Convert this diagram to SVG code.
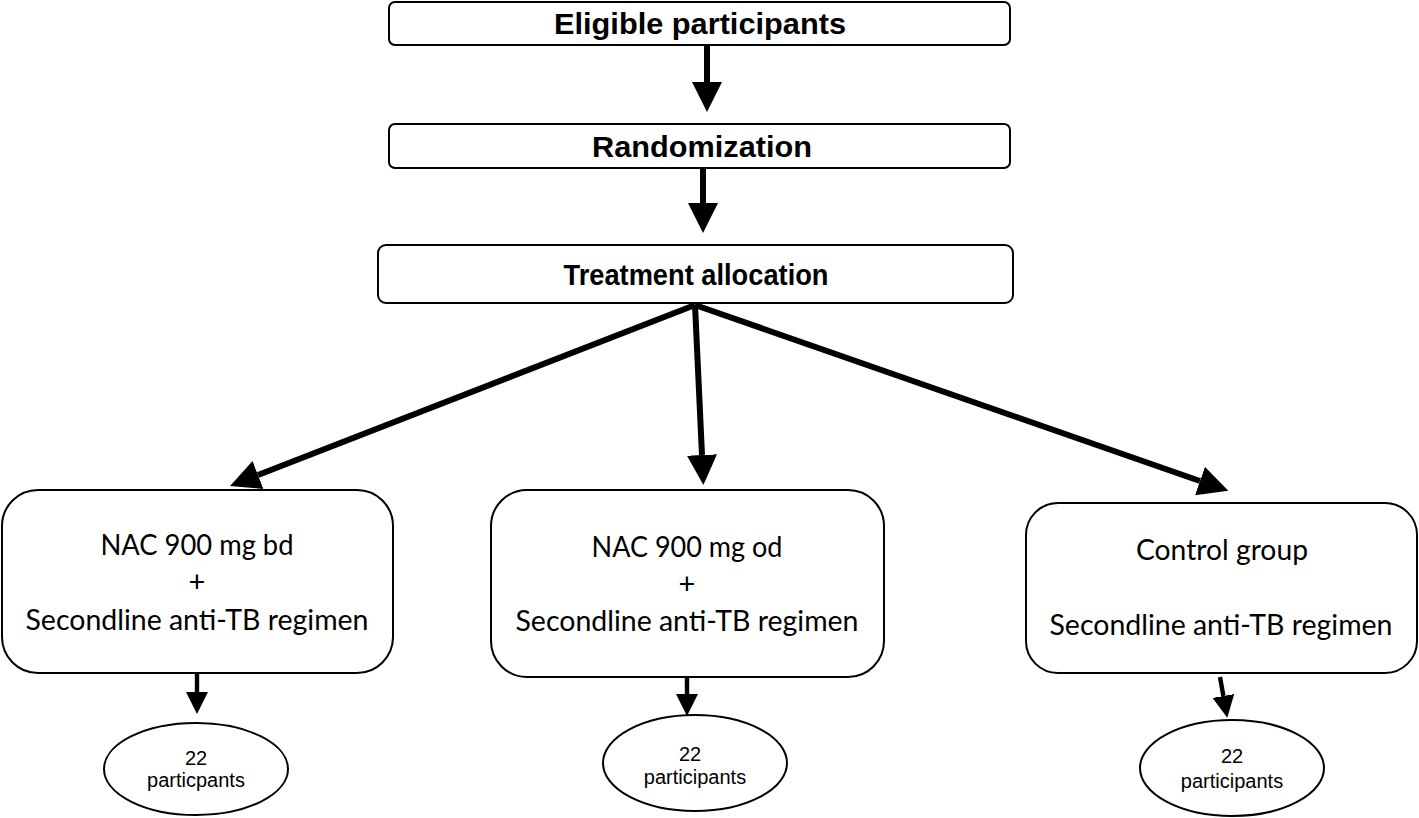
<svg xmlns="http://www.w3.org/2000/svg" width="1419" height="818" viewBox="0 0 1419 818">
<style>
.box{fill:#fff;stroke:#000;stroke-width:2}
.hdr{font-family:"Liberation Sans",Arial,sans-serif;font-weight:bold;font-size:30px;fill:#000;text-anchor:middle}
.arm{font-family:Lato,"Open Sans",sans-serif;font-size:29px;fill:#000;text-anchor:middle}
.cnt{font-family:"Liberation Sans",Arial,sans-serif;font-size:20px;fill:#000;text-anchor:middle}
.con{stroke:#000;fill:none;marker-end:url(#ah)}
</style>
<defs>
<marker id="ah" viewBox="0 0 10 10" refX="0" refY="5" markerWidth="5" markerHeight="5" markerUnits="strokeWidth" orient="auto">
<path d="M0,0 L10,5 L0,10 Z" fill="#000"/>
</marker>
</defs>
<rect width="1419" height="818" fill="#fff"/>
<g id="connectors">
<line class="con" x1="707" y1="45" x2="707" y2="82" stroke-width="6"/>
<line class="con" x1="703" y1="168" x2="703" y2="203" stroke-width="6"/>
<line class="con" x1="695" y1="305" x2="258" y2="475" stroke-width="6"/>
<line class="con" x1="695" y1="305" x2="702" y2="455" stroke-width="6"/>
<line class="con" x1="695" y1="305" x2="1200" y2="481" stroke-width="6"/>
<line class="con" x1="197" y1="673" x2="197" y2="692" stroke-width="4.4"/>
<line class="con" x1="687" y1="677" x2="687" y2="694" stroke-width="4.4"/>
<line class="con" x1="1220" y1="677" x2="1223.4" y2="696" stroke-width="4.4"/>
</g>
<g id="eligible">
<rect class="box" x="389" y="2" width="621" height="43" rx="6"/>
<text class="hdr" x="700" y="34" textLength="292" lengthAdjust="spacingAndGlyphs">Eligible participants</text>
</g>
<g id="randomization">
<rect class="box" x="389" y="124" width="621" height="44" rx="6"/>
<text class="hdr" x="702" y="157" textLength="220" lengthAdjust="spacingAndGlyphs">Randomization</text>
</g>
<g id="allocation">
<rect class="box" x="378" y="245" width="635" height="58" rx="8"/>
<text class="hdr" x="696" y="285" font-size="27" textLength="265" lengthAdjust="spacingAndGlyphs">Treatment allocation</text>
</g>
<g id="arm-bd">
<rect class="box" x="2" y="490" width="391" height="183" rx="36"/>
<text class="arm" x="197" y="555" textLength="193" lengthAdjust="spacingAndGlyphs">NAC 900 mg bd</text>
<text class="arm" x="197" y="592">+</text>
<text class="arm" x="197" y="630" textLength="343" lengthAdjust="spacingAndGlyphs">Secondline anti-TB regimen</text>
</g>
<g id="arm-od">
<rect class="box" x="491" y="490" width="393" height="187" rx="36"/>
<text class="arm" x="687" y="557" textLength="191" lengthAdjust="spacingAndGlyphs">NAC 900 mg od</text>
<text class="arm" x="687" y="594">+</text>
<text class="arm" x="687" y="631" textLength="343" lengthAdjust="spacingAndGlyphs">Secondline anti-TB regimen</text>
</g>
<g id="arm-control">
<rect class="box" x="1026" y="503" width="391" height="170" rx="32"/>
<text class="arm" x="1222" y="560" textLength="172" lengthAdjust="spacingAndGlyphs">Control group</text>
<text class="arm" x="1221" y="635" textLength="343" lengthAdjust="spacingAndGlyphs">Secondline anti-TB regimen</text>
</g>
<g id="n-bd">
<ellipse class="box" cx="196" cy="769" rx="92" ry="46"/>
<text class="cnt" x="196" y="765">22</text>
<text class="cnt" x="196" y="787">particpants</text>
</g>
<g id="n-od">
<ellipse class="box" cx="695" cy="763" rx="92" ry="48"/>
<text class="cnt" x="690" y="761">22</text>
<text class="cnt" x="695" y="784">participants</text>
</g>
<g id="n-control">
<ellipse class="box" cx="1232" cy="768" rx="92" ry="48"/>
<text class="cnt" x="1232" y="763">22</text>
<text class="cnt" x="1232" y="788">participants</text>
</g>
</svg>
